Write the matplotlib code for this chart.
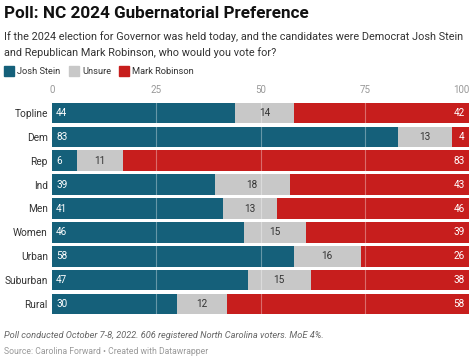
import matplotlib.pyplot as plt
import numpy as np

plt.rcParams['font.family'] = ['Roboto', 'DejaVu Sans']

# data
groups = ['Topline', 'Dem', 'Rep', 'Ind', 'Men', 'Women', 'Urban', 'Suburban', 'Rural']
stein = [44, 83, 6, 39, 41, 46, 58, 47, 30]
unsure = [14, 13, 11, 18, 13, 15, 16, 15, 12]
robinson = [42, 4, 83, 43, 46, 39, 26, 38, 58]
ticks = [0, 25, 50, 75, 100]

blue = '#15607a'
grey = '#c8c8c8'
red = '#c71e1d'

fig = plt.figure(figsize=(4.74, 3.6), dpi=100)
fig.patch.set_facecolor('white')

ax = fig.add_axes([52 / 474, 1 - 316 / 360, 417 / 474, 215 / 360])
y = np.arange(len(groups))
h = 0.86

ax.barh(y, stein, height=h, color=blue, zorder=1)
ax.barh(y, unsure, left=stein, height=h, color=grey, zorder=1)
left_r = [a + b for a, b in zip(stein, unsure)]
ax.barh(y, robinson, left=left_r, height=h, color=red, zorder=1)

for t in ticks[1:-1]:
    ax.axvline(t, color='white', alpha=0.35, lw=0.8, zorder=2)

for i in range(len(groups)):
    ax.text(1, y[i], str(stein[i]), color='white', fontsize=7.2, va='center', ha='left', zorder=3)
    ax.text(stein[i] + unsure[i] / 2, y[i], str(unsure[i]), color='#333333', fontsize=7.2,
            va='center', ha='center', zorder=3)
    ax.text(99, y[i], str(robinson[i]), color='white', fontsize=7.2, va='center', ha='right', zorder=3)

ax.set_xlim(0, 100)
ax.set_ylim(len(groups) - 0.5, -0.5)
ax.set_yticks(y)
ax.set_yticklabels(groups, fontsize=7.3, color='#333333')
ax.set_xticks([])
ax.tick_params(length=0, pad=3)
for s in ax.spines.values():
    s.set_visible(False)

# x tick labels on top, last one right-aligned at the bar end
for t in ticks:
    ax.text(t, 1.052, str(t), transform=ax.get_xaxis_transform(), fontsize=7, color='#999999',
            va='center', ha='right' if t == ticks[-1] else 'center')

# titles
fig.text(4 / 474, 1 - 14 / 360, 'Poll: NC 2024 Gubernatorial Preference', fontsize=12.3,
         fontweight='bold', color='#111111', va='center', ha='left')
fig.text(4 / 474, 1 - 37 / 360, 'If the 2024 election for Governor was held today, and the candidates were Democrat Josh Stein',
         fontsize=7.8, color='#333333', va='center', ha='left')
fig.text(4 / 474, 1 - 53 / 360, 'and Republican Mark Robinson, who would you vote for?',
         fontsize=7.8, color='#333333', va='center', ha='left')

# legend
leg = [('Josh Stein', blue, 4), ('Unsure', grey, 69), ('Mark Robinson', red, 119)]
for name, c, x0 in leg:
    fig.patches.append(plt.Rectangle((x0 / 474, 1 - 76 / 360), 10 / 474, 10 / 360,
                                     transform=fig.transFigure, color=c))
    fig.text((x0 + 13) / 474, 1 - 71 / 360, name, fontsize=6.7, color='#333333', va='center', ha='left')

# footer
fig.text(4 / 474, 1 - 336 / 360, 'Poll conducted October 7-8, 2022. 606 registered North Carolina voters. MoE 4%.',
         fontsize=6.7, style='italic', color='#666666', va='center', ha='left')
fig.text(4 / 474, 1 - 352 / 360, 'Source: Carolina Forward • Created with Datawrapper',
         fontsize=6.2, color='#999999', va='center', ha='left')

fig.savefig('out.png', dpi=100, facecolor='white')
